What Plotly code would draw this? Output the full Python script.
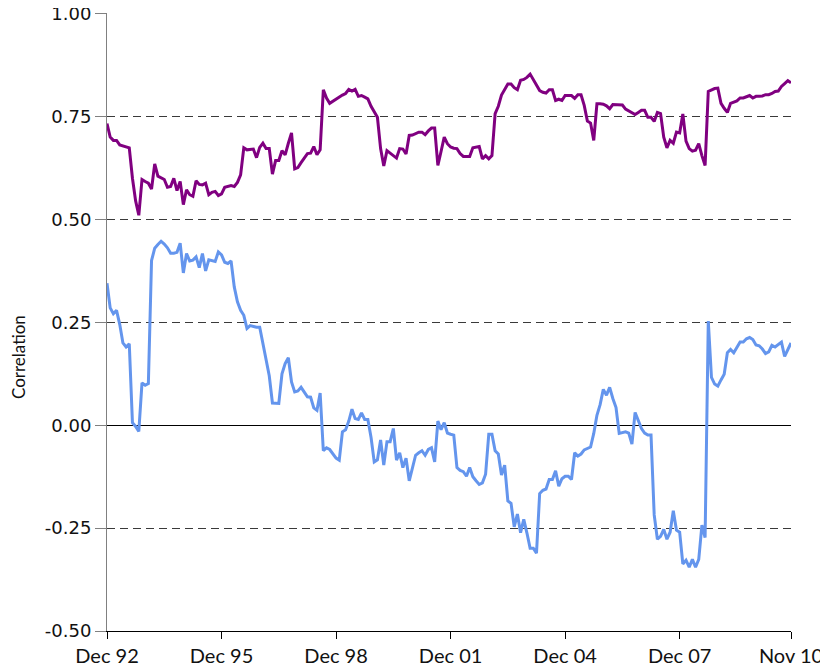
import plotly.graph_objects as go

# Monthly observations, Dec 1992 .. Nov 2010 (216 months)
series_a_name = "Series A"
series_a = [
    0.733, 0.700, 0.692, 0.692, 0.681, 0.679, 0.677, 0.674, 0.600, 0.545,
    0.510, 0.597, 0.592, 0.588, 0.574, 0.635, 0.605, 0.600, 0.597, 0.578,
    0.580, 0.600, 0.570, 0.592, 0.536, 0.572, 0.560, 0.556, 0.594, 0.585,
    0.584, 0.588, 0.560, 0.566, 0.568, 0.558, 0.562, 0.578, 0.580, 0.582,
    0.580, 0.590, 0.608, 0.674, 0.669, 0.670, 0.671, 0.650, 0.675, 0.685,
    0.672, 0.672, 0.610, 0.643, 0.643, 0.667, 0.657, 0.685, 0.710, 0.623,
    0.626, 0.638, 0.650, 0.660, 0.661, 0.677, 0.657, 0.669, 0.815, 0.795,
    0.782, 0.787, 0.792, 0.799, 0.802, 0.806, 0.816, 0.812, 0.816, 0.799,
    0.801, 0.797, 0.793, 0.775, 0.760, 0.748, 0.672, 0.630, 0.667, 0.661,
    0.655, 0.649, 0.672, 0.671, 0.659, 0.704, 0.705, 0.709, 0.712, 0.712,
    0.706, 0.715, 0.722, 0.722, 0.631, 0.665, 0.700, 0.684, 0.676, 0.673,
    0.672, 0.660, 0.653, 0.653, 0.653, 0.674, 0.675, 0.677, 0.647, 0.655,
    0.647, 0.655, 0.757, 0.775, 0.802, 0.817, 0.829, 0.829, 0.820, 0.815,
    0.838, 0.840, 0.845, 0.853, 0.840, 0.825, 0.813, 0.809, 0.807, 0.815,
    0.815, 0.789, 0.792, 0.789, 0.801, 0.801, 0.801, 0.794, 0.803, 0.803,
    0.777, 0.739, 0.734, 0.692, 0.781, 0.781, 0.780, 0.776, 0.769, 0.779,
    0.779, 0.779, 0.778, 0.768, 0.763, 0.758, 0.755, 0.760, 0.765, 0.765,
    0.748, 0.748, 0.738, 0.760, 0.757, 0.700, 0.674, 0.692, 0.685, 0.712,
    0.710, 0.756, 0.690, 0.672, 0.666, 0.668, 0.684, 0.655, 0.631, 0.811,
    0.815, 0.818, 0.819, 0.782, 0.770, 0.760, 0.782, 0.785, 0.788, 0.795,
    0.795, 0.798, 0.801, 0.795, 0.799, 0.799, 0.800, 0.803, 0.803, 0.806,
    0.811, 0.812, 0.823, 0.830, 0.837, 0.832,
]

series_b_name = "Series B"
series_b = [
    0.345, 0.285, 0.271, 0.279, 0.245, 0.200, 0.190, 0.198, 0.006, -0.003,
    -0.015, 0.103, 0.097, 0.101, 0.400, 0.430, 0.439, 0.447, 0.440, 0.431,
    0.418, 0.418, 0.420, 0.442, 0.370, 0.417, 0.399, 0.401, 0.409, 0.383,
    0.417, 0.375, 0.402, 0.400, 0.398, 0.421, 0.414, 0.396, 0.393, 0.399,
    0.336, 0.300, 0.279, 0.267, 0.235, 0.242, 0.240, 0.238, 0.238, 0.200,
    0.166, 0.120, 0.054, 0.054, 0.053, 0.125, 0.150, 0.164, 0.105, 0.081,
    0.083, 0.092, 0.080, 0.069, 0.068, 0.042, 0.036, 0.078, -0.062, -0.055,
    -0.059, -0.069, -0.080, -0.085, -0.016, -0.011, 0.010, 0.039, 0.016, 0.014,
    0.030, 0.014, 0.014, -0.030, -0.089, -0.084, -0.036, -0.097, -0.040, -0.040,
    -0.008, -0.085, -0.067, -0.103, -0.080, -0.135, -0.100, -0.073, -0.067, -0.062,
    -0.073, -0.059, -0.055, -0.089, 0.010, -0.011, 0.006, -0.019, -0.022, -0.024,
    -0.103, -0.110, -0.113, -0.124, -0.103, -0.125, -0.135, -0.144, -0.140, -0.119,
    -0.022, -0.022, -0.062, -0.070, -0.121, -0.097, -0.184, -0.190, -0.247, -0.216,
    -0.261, -0.229, -0.262, -0.299, -0.299, -0.311, -0.166, -0.158, -0.155, -0.132,
    -0.132, -0.111, -0.148, -0.130, -0.124, -0.124, -0.132, -0.067, -0.075, -0.070,
    -0.060, -0.057, -0.053, -0.020, 0.024, 0.050, 0.087, 0.073, 0.092, 0.065,
    0.043, -0.020, -0.018, -0.016, -0.019, -0.046, 0.031, 0.010, -0.008, -0.019,
    -0.024, -0.024, -0.218, -0.277, -0.270, -0.253, -0.277, -0.260, -0.208, -0.255,
    -0.260, -0.337, -0.328, -0.345, -0.326, -0.345, -0.326, -0.243, -0.273, 0.253,
    0.116, 0.100, 0.095, 0.110, 0.124, 0.176, 0.184, 0.176, 0.190, 0.202,
    0.202, 0.210, 0.213, 0.208, 0.195, 0.193, 0.185, 0.174, 0.178, 0.194,
    0.190, 0.196, 0.202, 0.167, 0.185, 0.200,
]

month_index = list(range(len(series_a)))

x_tick_vals = [0, 36, 72, 108, 144, 180, 215]
x_tick_text = ["Dec 92", "Dec 95", "Dec 98", "Dec 01", "Dec 04", "Dec 07", "Nov 10"]

y_tick_vals = [-0.5, -0.25, 0.0, 0.25, 0.5, 0.75, 1.0]
y_tick_text = ["-0.50", "-0.25", "0.00", "0.25", "0.50", "0.75", "1.00"]

y_title = "Correlation"

fig = go.Figure()
fig.add_trace(go.Scatter(x=month_index, y=series_a, mode="lines", name=series_a_name,
                         line=dict(color="#800080", width=3)))
fig.add_trace(go.Scatter(x=month_index, y=series_b, mode="lines", name=series_b_name,
                         line=dict(color="#6495ED", width=3)))

# page body adds an 8px offset, so the figure is sized to fit inside the window
fig.update_layout(
    width=820, height=660,
    margin=dict(l=99, r=37, t=5, b=37),
    paper_bgcolor="white", plot_bgcolor="white",
    showlegend=False,
    xaxis=dict(
        range=[0, 215], tickmode="array", tickvals=x_tick_vals, ticktext=x_tick_text,
        showgrid=False, zeroline=False, showline=True, linecolor="black", linewidth=1,
        ticks="outside", ticklen=7, tickcolor="black", tickwidth=1, automargin=False,
        tickfont=dict(family="Lato", size=20, color="#111111"),
    ),
    yaxis=dict(
        range=[-0.5, 1.0015], tickmode="array", tickvals=y_tick_vals, ticktext=y_tick_text,
        showgrid=True, gridcolor="#3a3a3a", gridwidth=1, griddash="8px,5px",
        zeroline=True, zerolinecolor="black", zerolinewidth=1,
        showline=True, linecolor="#808080", linewidth=1, automargin=False,
        ticks="outside", ticklen=11, tickcolor="#808080", tickwidth=1,
        ticklabeloverflow="allow",
        tickfont=dict(family="DejaVu Sans", size=18, color="#111111"),
    ),
    annotations=[dict(
        text=y_title, textangle=-90, xref="paper", yref="paper",
        x=(18 - 107) / 684, y=(631 - 357) / 618, xanchor="center", yanchor="middle",
        showarrow=False, font=dict(family="Lato", size=17, color="#111111"),
    )],
)

fig.write_html("out.html")
